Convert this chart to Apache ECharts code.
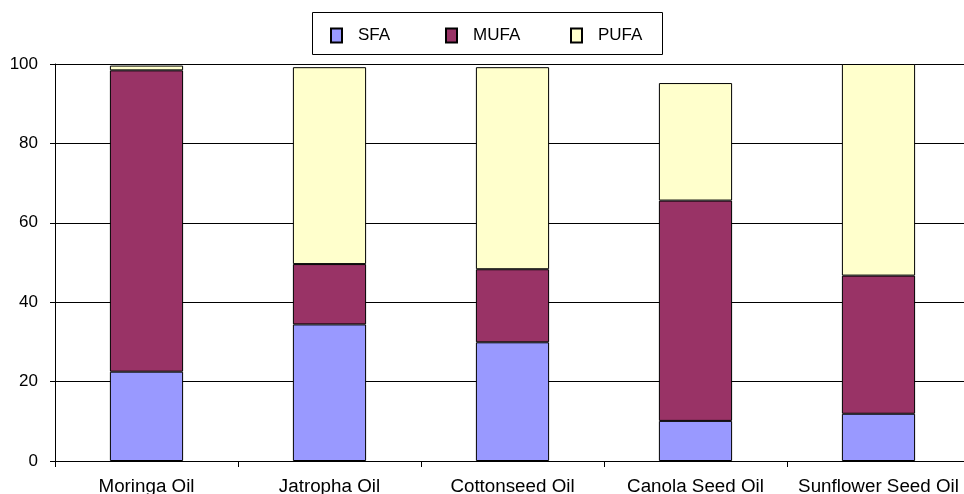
<!DOCTYPE html>
<html>
<head>
<meta charset="utf-8">
<title>Fatty acid composition of oils</title>
<script src="https://cdn.jsdelivr.net/npm/echarts@6/dist/echarts.min.js"></script>
<style>
  html, body { margin: 0; padding: 0; background: #fff; }
  #chart { width: 964px; height: 494px; }
</style>
</head>
<body>
<div id="chart"></div>
<script>
// Oils on the category axis
const oils = ['Moringa Oil', 'Jatropha Oil', 'Cottonseed Oil', 'Canola Seed Oil', 'Sunflower Seed Oil'];

// Fatty acid shares (%) per oil
const sfa  = [22.5, 34.4, 29.9, 10.1, 11.9];
const mufa = [75.9, 15.2, 18.4, 55.5, 34.8];
const pufa = [1.2, 49.6, 50.9, 29.6, 53.3];

// Value axis tick range
const yMin = 0;
const yMax = 100;
const yStep = 20;

const FONT = '"Liberation Sans", Arial, sans-serif';
const colors = { SFA: '#9999FF', MUFA: '#993366', PUFA: '#FFFFCC' };

function barSeries(name, values) {
  return {
    name: name,
    type: 'bar',
    stack: 'total',
    data: values,
    barWidth: '40%',
    itemStyle: { color: colors[name], borderColor: '#000', borderWidth: 1 },
    emphasis: { disabled: true }
  };
}

// One legend entry per component so each sits in its own slot inside the box
function legendEntry(name, left) {
  return {
    data: [{ name: name, icon: 'rect' }],
    left: left,
    top: 27,
    padding: 0,
    itemWidth: 11,
    itemHeight: 14,
    selectedMode: false,
    textStyle: { fontFamily: FONT, fontSize: 17, color: '#000', padding: [0, 0, 0, 11] }
  };
}

const chart = echarts.init(document.getElementById('chart'), null, { renderer: 'canvas' });

chart.setOption({
  animation: false,
  backgroundColor: '#fff',
  graphic: [{
    type: 'rect',
    shape: { x: 312.5, y: 12.5, width: 350, height: 42 },
    style: { fill: '#fff', stroke: '#000', lineWidth: 1 },
    z: -1
  }],
  legend: [
    legendEntry('SFA', 330),
    legendEntry('MUFA', 445),
    legendEntry('PUFA', 570)
  ],
  grid: { left: 55, right: -6, top: 64, bottom: 33, containLabel: false, outerBoundsMode: 'none' },
  xAxis: {
    type: 'category',
    data: oils,
    boundaryGap: true,
    axisLine: { lineStyle: { color: '#000', width: 1 } },
    axisTick: { show: true, length: 6, lineStyle: { color: '#000' } },
    axisLabel: { fontFamily: FONT, fontSize: 18.8, color: '#000', margin: 16, interval: 0 },
    splitLine: { show: false }
  },
  yAxis: {
    type: 'value',
    min: yMin,
    max: yMax,
    interval: yStep,
    axisLine: { show: true, lineStyle: { color: '#000', width: 1 } },
    axisTick: { show: true, length: 5, lineStyle: { color: '#000' } },
    axisLabel: { fontFamily: FONT, fontSize: 17, color: '#000', margin: 17 },
    splitLine: { show: true, lineStyle: { color: '#000', width: 1 } }
  },
  series: [
    barSeries('SFA', sfa),
    barSeries('MUFA', mufa),
    barSeries('PUFA', pufa)
  ]
});
</script>
</body>
</html>
